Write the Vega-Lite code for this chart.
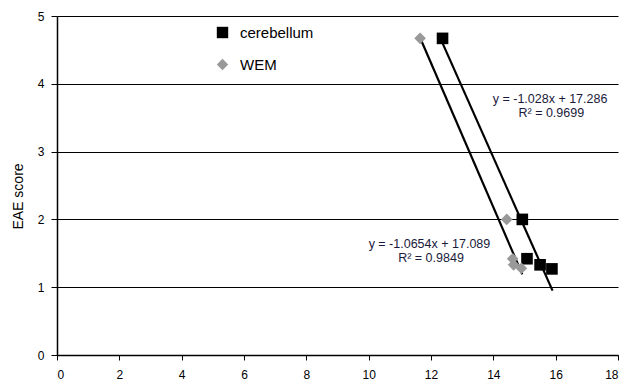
{
  "$schema": "https://vega.github.io/schema/vega-lite/v6.json",
  "width": 561,
  "height": 339,
  "autosize": {"type": "none"},
  "padding": {"left": 57, "top": 16, "right": 9, "bottom": 30},
  "background": "white",
  "config": {
    "view": {"stroke": null},
    "font": "Liberation Sans",
    "axis": {"labelFont": "Liberation Sans", "titleFont": "Liberation Sans", "labelColor": "#000", "titleColor": "#000"}
  },
  "datasets": {
    "points": [
      {"x": 12.37, "y": 4.67, "series": "cerebellum"},
      {"x": 14.93, "y": 2.0, "series": "cerebellum"},
      {"x": 15.08, "y": 1.42, "series": "cerebellum"},
      {"x": 15.5, "y": 1.33, "series": "cerebellum"},
      {"x": 15.88, "y": 1.27, "series": "cerebellum"},
      {"x": 11.65, "y": 4.67, "series": "WEM"},
      {"x": 14.43, "y": 2.0, "series": "WEM"},
      {"x": 14.62, "y": 1.42, "series": "WEM"},
      {"x": 14.65, "y": 1.33, "series": "WEM"},
      {"x": 14.9, "y": 1.28, "series": "WEM"}
    ],
    "trend": [
      {"x": 12.37, "y": 4.6, "series": "cerebellum"},
      {"x": 15.9, "y": 0.95, "series": "cerebellum"},
      {"x": 11.65, "y": 4.68, "series": "WEM"},
      {"x": 14.93, "y": 1.19, "series": "WEM"}
    ],
    "labels": [
      {"x": 15.82, "y": 3.78, "text": "y = -1.028x + 17.286"},
      {"x": 15.86, "y": 3.565, "text": "R² = 0.9699"},
      {"x": 11.95, "y": 1.64, "text": "y = -1.0654x + 17.089"},
      {"x": 12.0, "y": 1.425, "text": "R² = 0.9849"}
    ]
  },
  "layer": [
    {
      "data": {"name": "trend"},
      "mark": {"type": "line", "color": "black", "strokeWidth": 2.2},
      "encoding": {
        "x": {"field": "x", "type": "quantitative", "scale": {"domain": [0, 18], "nice": false, "zero": false},
          "axis": {"values": [0, 2, 4, 6, 8, 10, 12, 14, 16, 18], "format": "d", "grid": false, "title": null, "domainColor": "#000", "domainWidth": 1.5, "tickColor": "#000", "tickSize": 5, "labelFontSize": 12, "labelPadding": 9}},
        "y": {"field": "y", "type": "quantitative", "scale": {"domain": [0, 5], "nice": false},
          "axis": {"values": [0, 1, 2, 3, 4, 5], "format": "d", "grid": true, "gridColor": "#000", "gridWidth": 1, "gridOpacity": 1, "title": "EAE score", "titleFontSize": 14, "titleFontWeight": "normal", "titlePadding": 12, "titleY": 180, "domainColor": "#000", "domainWidth": 1.5, "tickColor": "#000", "tickSize": 6, "labelFontSize": 12, "labelPadding": 7}},
        "detail": {"field": "series"}
      }
    },
    {
      "data": {"name": "points"},
      "mark": {"type": "point", "filled": true, "opacity": 1, "size": 135},
      "encoding": {
        "x": {"field": "x", "type": "quantitative"},
        "y": {"field": "y", "type": "quantitative"},
        "color": {"field": "series", "type": "nominal", "scale": {"domain": ["cerebellum", "WEM"], "range": ["#000000", "#999999"]},
          "legend": {"title": null, "orient": "none", "legendX": 158, "legendY": 9, "labelFontSize": 15, "labelFont": "Liberation Sans", "labelColor": "#000", "rowPadding": 16, "symbolSize": 130, "labelOffset": 10}},
        "shape": {"field": "series", "type": "nominal", "scale": {"domain": ["cerebellum", "WEM"], "range": ["square", "diamond"]}}
      }
    },
    {
      "data": {"name": "labels"},
      "mark": {"type": "text", "fontSize": 12.5, "color": "#1a1a3a", "align": "center", "baseline": "middle"},
      "encoding": {
        "x": {"field": "x", "type": "quantitative"},
        "y": {"field": "y", "type": "quantitative"},
        "text": {"field": "text"}
      }
    }
  ]
}
